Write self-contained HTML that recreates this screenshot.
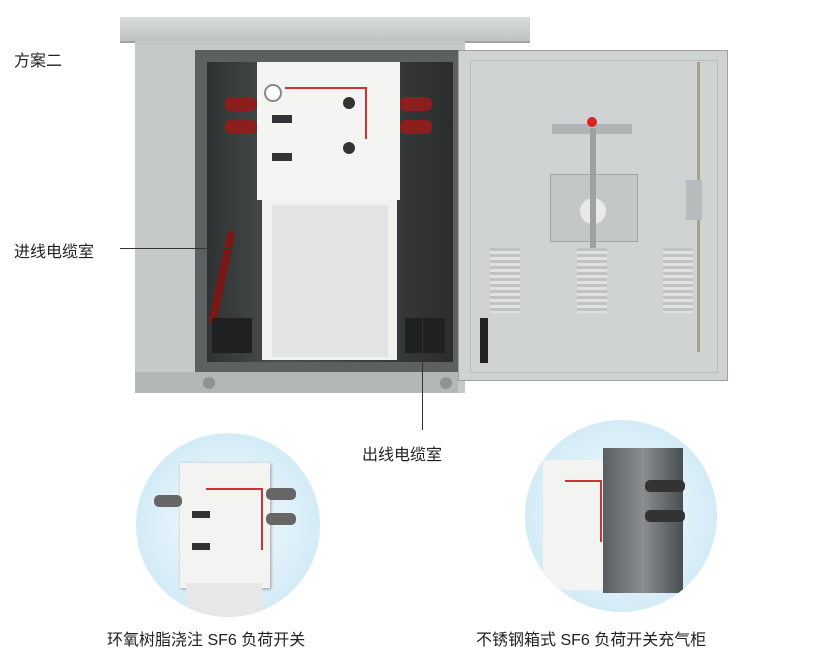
<!DOCTYPE html>
<html><head><meta charset="utf-8"><style>
body{margin:0;width:836px;height:655px;background:#fff;position:relative;overflow:hidden;font-family:"Liberation Sans","Noto Sans CJK SC",sans-serif;color:#222}
.a{position:absolute}
.t{position:absolute;font-size:16px;white-space:nowrap}
</style></head><body>
<div class="t" style="left:14px;top:47px">方案二</div>
<div class="t" style="left:14px;top:238px">进线电缆室</div>
<div class="t" style="left:362px;top:441px">出线电缆室</div>

<!-- roof -->
<div class="a" style="left:120px;top:17px;width:410px;height:24px;background:linear-gradient(#d9dcdc,#bfc3c4);border-bottom:2px solid #9fa3a4"></div>
<!-- body -->
<div class="a" style="left:135px;top:41px;width:330px;height:352px;background:#c6c9ca"></div>
<div class="a" style="left:195px;top:50px;width:263px;height:322px;background:#5c6061"></div>
<div class="a" style="left:207px;top:62px;width:246px;height:300px;background:linear-gradient(90deg,#2f3233,#4a4e4f 30%,#3a3d3e 70%,#2a2c2d)"></div>
<div class="a" style="left:135px;top:372px;width:323px;height:21px;background:#b3b7b8"></div>
<div class="a" style="left:203px;top:377px;width:12px;height:12px;border-radius:50%;background:#8f9394"></div>
<div class="a" style="left:440px;top:377px;width:12px;height:12px;border-radius:50%;background:#8f9394"></div>
<!-- cable -->
<div class="a" style="left:218px;top:230px;width:8px;height:95px;background:#7a1818;border-radius:4px;transform:rotate(12deg)"></div>
<div class="a" style="left:212px;top:318px;width:40px;height:35px;background:#1e2021"></div>
<div class="a" style="left:405px;top:318px;width:40px;height:35px;background:#1e2021"></div>
<!-- insulators -->
<div class="a" style="left:225px;top:97px;width:32px;height:14px;border-radius:6px;background:#8c1e1e"></div>
<div class="a" style="left:225px;top:120px;width:32px;height:14px;border-radius:6px;background:#8c1e1e"></div>
<div class="a" style="left:400px;top:97px;width:32px;height:14px;border-radius:6px;background:#8c1e1e"></div>
<div class="a" style="left:400px;top:120px;width:32px;height:14px;border-radius:6px;background:#8c1e1e"></div>
<!-- device -->
<div class="a" style="left:257px;top:62px;width:143px;height:138px;background:#f4f4f2"></div>
<div class="a" style="left:264px;top:84px;width:14px;height:14px;border-radius:50%;border:2px solid #888;background:#fff"></div>
<div class="a" style="left:285px;top:87px;width:80px;height:50px;border:2px solid #c33;border-left:none;border-bottom:none"></div>
<div class="a" style="left:272px;top:115px;width:20px;height:8px;background:#333"></div>
<div class="a" style="left:272px;top:153px;width:20px;height:8px;background:#333"></div>
<div class="a" style="left:343px;top:97px;width:12px;height:12px;border-radius:50%;background:#333"></div>
<div class="a" style="left:343px;top:142px;width:12px;height:12px;border-radius:50%;background:#333"></div>
<div class="a" style="left:262px;top:200px;width:135px;height:160px;background:#f1f1ef"></div>
<div class="a" style="left:272px;top:205px;width:116px;height:152px;background:#e3e5e5"></div>
<!-- door -->
<div class="a" style="left:458px;top:50px;width:270px;height:331px;background:#cfd3d4;border:1px solid #9ea2a3;box-sizing:border-box"></div>
<div class="a" style="left:470px;top:60px;width:246px;height:311px;border:1px solid #b8bcbd"></div>
<div class="a" style="left:550px;top:174px;width:86px;height:66px;background:#c3c7c8;border:1px solid #a0a4a5"></div>
<div class="a" style="left:580px;top:198px;width:26px;height:26px;border-radius:50%;background:#e8eaea"></div>
<div class="a" style="left:552px;top:124px;width:80px;height:10px;background:#b0b4b5"></div>
<div class="a" style="left:590px;top:128px;width:6px;height:140px;background:#9da1a2"></div>
<div class="a" style="left:587px;top:117px;width:10px;height:10px;border-radius:50%;background:#d22"></div>
<div class="a" style="left:587px;top:263px;width:10px;height:10px;border-radius:50%;background:#d22"></div>
<div class="a" style="left:490px;top:248px;width:30px;height:65px;background:repeating-linear-gradient(#bfc3c4 0 3px,#e0e2e2 3px 6px)"></div>
<div class="a" style="left:577px;top:248px;width:30px;height:65px;background:repeating-linear-gradient(#bfc3c4 0 3px,#e0e2e2 3px 6px)"></div>
<div class="a" style="left:663px;top:248px;width:30px;height:65px;background:repeating-linear-gradient(#bfc3c4 0 3px,#e0e2e2 3px 6px)"></div>
<div class="a" style="left:697px;top:62px;width:3px;height:290px;background:#a8a08a"></div>
<div class="a" style="left:686px;top:180px;width:16px;height:40px;background:#b7bbbc"></div>
<div class="a" style="left:480px;top:318px;width:8px;height:45px;background:#222"></div>

<!-- circle 1 -->
<div class="a" style="left:136px;top:433px;width:184px;height:184px;border-radius:50%;background:radial-gradient(circle,#e8f5fb 30%,#c4e4f3);overflow:hidden">
 <div class="a" style="left:44px;top:30px;width:90px;height:125px;background:#f3f3f1;box-shadow:1px 1px 3px #999"></div>
 <div class="a" style="left:50px;top:150px;width:76px;height:40px;background:#e6e7e6"></div>
 <div class="a" style="left:18px;top:62px;width:28px;height:12px;border-radius:5px;background:#666"></div>
 <div class="a" style="left:130px;top:55px;width:30px;height:12px;border-radius:5px;background:#666"></div>
 <div class="a" style="left:130px;top:80px;width:30px;height:12px;border-radius:5px;background:#666"></div>
 <div class="a" style="left:70px;top:55px;width:55px;height:60px;border:2px solid #c33;border-left:none;border-bottom:none"></div>
 <div class="a" style="left:56px;top:78px;width:18px;height:7px;background:#333"></div>
 <div class="a" style="left:56px;top:110px;width:18px;height:7px;background:#333"></div>
</div>
<!-- circle 2 -->
<div class="a" style="left:525px;top:420px;width:192px;height:192px;border-radius:50%;background:radial-gradient(circle,#e8f5fb 30%,#c4e4f3);overflow:hidden">
 <div class="a" style="left:18px;top:40px;width:60px;height:130px;background:#f3f3f1"></div>
 <div class="a" style="left:78px;top:28px;width:80px;height:145px;background:linear-gradient(90deg,#5a5e60,#8a8e90,#4a4e50)"></div>
 <div class="a" style="left:120px;top:60px;width:40px;height:12px;border-radius:5px;background:#333"></div>
 <div class="a" style="left:120px;top:90px;width:40px;height:12px;border-radius:5px;background:#333"></div>
 <div class="a" style="left:40px;top:60px;width:35px;height:60px;border:2px solid #c33;border-left:none;border-bottom:none"></div>
</div>

<div class="t" style="left:107px;top:626px">环氧树脂浇注 SF6 负荷开关</div>
<div class="t" style="left:476px;top:626px">不锈钢箱式 SF6 负荷开关充气柜</div>

<!-- leader lines on top -->
<div class="a" style="left:120px;top:248px;width:112px;height:1px;background:#333"></div>
<div class="a" style="left:422px;top:245px;width:1px;height:185px;background:#333"></div>
</body></html>
